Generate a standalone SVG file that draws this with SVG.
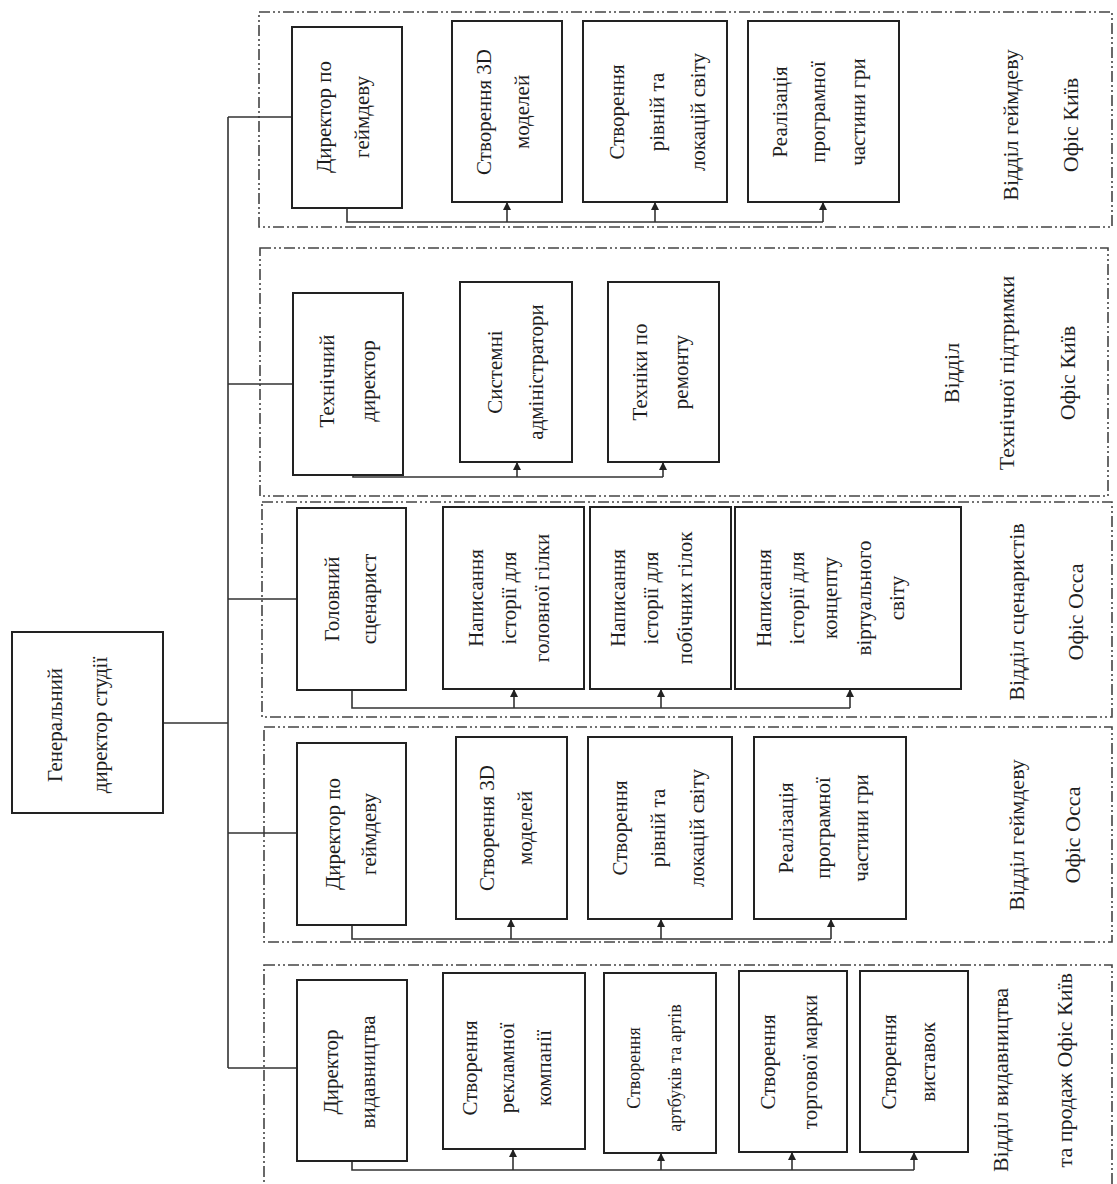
<svg xmlns="http://www.w3.org/2000/svg" width="1117" height="1184" viewBox="0 0 1117 1184">
<style>
.bg{fill:#fff}
.box{fill:#fff;stroke:#222;stroke-width:2}
.grp{fill:none;stroke:#444;stroke-width:1.6;stroke-dasharray:11 3 2 3 2 3}
.t{font-family:"Liberation Serif","Times New Roman",serif;font-size:21px;fill:#1e1e1e;text-anchor:middle}
.t tspan{dominant-baseline:central}
.s{font-size:18px}
.lbl{font-size:22px}
.ln{fill:none;stroke:#333;stroke-width:1.6}
.ar{fill:none;stroke:#333;stroke-width:1.6;marker-end:url(#ah)}
</style>
<defs>
<marker id="ah" viewBox="0 0 8 8" refX="8" refY="4" markerWidth="8" markerHeight="8" markerUnits="userSpaceOnUse" orient="auto">
<path d="M0,0 L8,4 L0,8 z" fill="#222"/>
</marker>
</defs>
<rect class="bg" x="0" y="0" width="1117" height="1184"/>

<g id="groups">
<rect id="g1" class="grp" x="259" y="12" width="853" height="215"/>
<rect id="g2" class="grp" x="260" y="248" width="848" height="248"/>
<rect id="g3" class="grp" x="262" y="502" width="850" height="215"/>
<rect id="g4" class="grp" x="264" y="727" width="848" height="215"/>
<rect id="g5" class="grp" x="264" y="965" width="848" height="230"/>
</g>

<g id="connectors">
<path class="ln" d="M163,723 H228 M228,117 V1068 M228,117 H292 M228,384 H293 M228,599 H297 M228,833 H297 M228,1068 H297"/>
<path class="ln" d="M347,208 V222 H823"/>
<path class="ar" d="M507,222 V202"/>
<path class="ar" d="M655,222 V202"/>
<path class="ar" d="M823,222 V202"/>
<path class="ln" d="M353,475 V477 H663"/>
<path class="ar" d="M517,477 V462"/>
<path class="ar" d="M663,477 V462"/>
<path class="ln" d="M352,690 V708 H850"/>
<path class="ar" d="M514,708 V689"/>
<path class="ar" d="M661,708 V689"/>
<path class="ar" d="M850,708 V689"/>
<path class="ln" d="M352,925 V939 H831"/>
<path class="ar" d="M511,939 V919"/>
<path class="ar" d="M661,939 V919"/>
<path class="ar" d="M831,939 V919"/>
<path class="ln" d="M352,1161 V1170 H914"/>
<path class="ar" d="M513,1170 V1149"/>
<path class="ar" d="M661,1170 V1153"/>
<path class="ar" d="M792,1170 V1152"/>
<path class="ar" d="M914,1170 V1152"/>
</g>

<g id="ceo">
<rect class="box" x="12" y="632" width="151" height="181"/>
<text class="t" transform="translate(0,725) rotate(-90)"><tspan x="0" y="55">Генеральний</tspan><tspan x="0" y="100">директор студії</tspan></text>
</g>

<g id="g1-director">
<rect class="box" x="292" y="27" width="110" height="181"/>
<text class="t" transform="translate(0,117) rotate(-90)"><tspan x="0" y="324">Директор по</tspan><tspan x="0" y="362">геймдеву</tspan></text>
</g>
<g id="g1-models">
<rect class="box" x="452" y="21" width="110" height="181"/>
<text class="t" transform="translate(0,112) rotate(-90)"><tspan x="0" y="484">Створення 3D</tspan><tspan x="0" y="522">моделей</tspan></text>
</g>
<g id="g1-levels">
<rect class="box" x="583" y="21" width="144" height="181"/>
<text class="t" transform="translate(0,112) rotate(-90)"><tspan x="0" y="617">Створення</tspan><tspan x="0" y="657">рівній та</tspan><tspan x="0" y="698">локацій світу</tspan></text>
</g>
<g id="g1-code">
<rect class="box" x="748" y="21" width="151" height="181"/>
<text class="t" transform="translate(0,112) rotate(-90)"><tspan x="0" y="780">Реалізація</tspan><tspan x="0" y="818">програмної</tspan><tspan x="0" y="858">частини гри</tspan></text>
</g>
<g id="g1-label">
<text class="t lbl" transform="translate(0,125) rotate(-90)"><tspan x="0" y="1010">Відділ геймдеву</tspan><tspan x="0" y="1070">Офіс Київ</tspan></text>
</g>

<g id="g2-director">
<rect class="box" x="293" y="293" width="110" height="182"/>
<text class="t" transform="translate(0,381) rotate(-90)"><tspan x="0" y="327">Технічний</tspan><tspan x="0" y="368">директор</tspan></text>
</g>
<g id="g2-admins">
<rect class="box" x="460" y="282" width="112" height="180"/>
<text class="t" transform="translate(0,372) rotate(-90)"><tspan x="0" y="495">Системні</tspan><tspan x="0" y="536">адміністратори</tspan></text>
</g>
<g id="g2-repair">
<rect class="box" x="608" y="282" width="111" height="180"/>
<text class="t" transform="translate(0,372) rotate(-90)"><tspan x="0" y="640">Техніки по</tspan><tspan x="0" y="681">ремонту</tspan></text>
</g>
<g id="g2-label">
<text class="t lbl" transform="translate(0,373) rotate(-90)"><tspan x="0" y="951">Відділ</tspan><tspan x="0" y="1006">Технічної підтримки</tspan><tspan x="0" y="1067">Офіс Київ</tspan></text>
</g>

<g id="g3-head">
<rect class="box" x="297" y="508" width="109" height="182"/>
<text class="t" transform="translate(0,599) rotate(-90)"><tspan x="0" y="332">Головний</tspan><tspan x="0" y="369">сценарист</tspan></text>
</g>
<g id="g3-main">
<rect class="box" x="443" y="507" width="141" height="182"/>
<text class="t" transform="translate(0,598) rotate(-90)"><tspan x="0" y="476">Написання</tspan><tspan x="0" y="509">історії для</tspan><tspan x="0" y="542">головної гілки</tspan></text>
</g>
<g id="g3-side">
<rect class="box" x="590" y="507" width="141" height="182"/>
<text class="t" transform="translate(0,598) rotate(-90)"><tspan x="0" y="618">Написання</tspan><tspan x="0" y="651">історії для</tspan><tspan x="0" y="685">побічних гілок</tspan></text>
</g>
<g id="g3-world">
<rect class="box" x="735" y="507" width="226" height="182"/>
<text class="t" transform="translate(0,598) rotate(-90)"><tspan x="0" y="764">Написання</tspan><tspan x="0" y="797">історії для</tspan><tspan x="0" y="830">концепту</tspan><tspan x="0" y="864">віртуального</tspan><tspan x="0" y="897">світу</tspan></text>
</g>
<g id="g3-label">
<text class="t lbl" transform="translate(0,612) rotate(-90)"><tspan x="0" y="1016">Відділ сценаристів</tspan><tspan x="0" y="1075">Офіс Осса</tspan></text>
</g>

<g id="g4-director">
<rect class="box" x="297" y="743" width="109" height="182"/>
<text class="t" transform="translate(0,834) rotate(-90)"><tspan x="0" y="333">Директор по</tspan><tspan x="0" y="369">геймдеву</tspan></text>
</g>
<g id="g4-models">
<rect class="box" x="456" y="737" width="111" height="182"/>
<text class="t" transform="translate(0,828) rotate(-90)"><tspan x="0" y="487">Створення 3D</tspan><tspan x="0" y="525">моделей</tspan></text>
</g>
<g id="g4-levels">
<rect class="box" x="588" y="737" width="144" height="182"/>
<text class="t" transform="translate(0,828) rotate(-90)"><tspan x="0" y="620">Створення</tspan><tspan x="0" y="658">рівній та</tspan><tspan x="0" y="697">локацій світу</tspan></text>
</g>
<g id="g4-code">
<rect class="box" x="754" y="737" width="152" height="182"/>
<text class="t" transform="translate(0,828) rotate(-90)"><tspan x="0" y="786">Реалізація</tspan><tspan x="0" y="823">програмної</tspan><tspan x="0" y="861">частини гри</tspan></text>
</g>
<g id="g4-label">
<text class="t lbl" transform="translate(0,835) rotate(-90)"><tspan x="0" y="1016">Відділ геймдеву</tspan><tspan x="0" y="1072">Офіс Осса</tspan></text>
</g>

<g id="g5-director">
<rect class="box" x="297" y="980" width="110" height="181"/>
<text class="t" transform="translate(0,1072) rotate(-90)"><tspan x="0" y="331">Директор</tspan><tspan x="0" y="368">видавництва</tspan></text>
</g>
<g id="g5-ads">
<rect class="box" x="443" y="973" width="142" height="176"/>
<text class="t" transform="translate(0,1068) rotate(-90)"><tspan x="0" y="470">Створення</tspan><tspan x="0" y="507">рекламної</tspan><tspan x="0" y="544">компанії</tspan></text>
</g>
<g id="g5-art">
<rect class="box" x="604" y="973" width="112" height="180"/>
<text class="t s" transform="translate(0,1068) rotate(-90)"><tspan x="0" y="634">Створення</tspan><tspan x="0" y="675">артбуків та артів</tspan></text>
</g>
<g id="g5-brand">
<rect class="box" x="739" y="971" width="108" height="181"/>
<text class="t" transform="translate(0,1062) rotate(-90)"><tspan x="0" y="768">Створення</tspan><tspan x="0" y="810">торгової марки</tspan></text>
</g>
<g id="g5-expo">
<rect class="box" x="860" y="971" width="108" height="181"/>
<text class="t" transform="translate(0,1062) rotate(-90)"><tspan x="0" y="889">Створення</tspan><tspan x="0" y="928">виставок</tspan></text>
</g>
<g id="g5-label">
<text class="t lbl" transform="translate(0,988) rotate(-90)" style="text-anchor:end"><tspan x="0" y="1000">Відділ видавництва</tspan><tspan x="15" y="1064">та продаж Офіс Київ</tspan></text>
</g>
</svg>
